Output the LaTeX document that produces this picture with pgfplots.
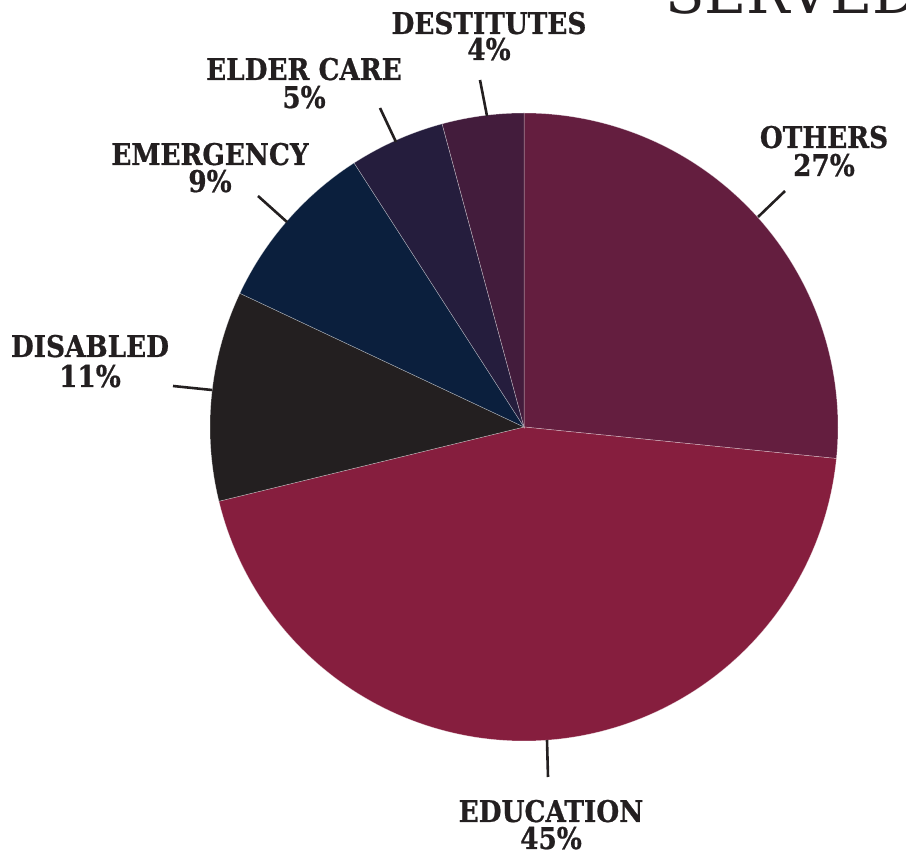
\documentclass[border=0pt]{standalone}
\usepackage{pgfplots}
\pgfplotsset{compat=1.18}
\usepackage{fontspec}
\setmainfont{DejaVu Serif}
\newfontfamily\labfont{DejaVu Serif}[FakeStretch=0.88, BoldFeatures={FakeBold=0.7}]
\definecolor{cOth}{RGB}{100,30,63}
\definecolor{cEdu}{RGB}{134,30,62}
\definecolor{cDis}{RGB}{35,31,32}
\definecolor{cEme}{RGB}{11,31,61}
\definecolor{cEld}{RGB}{37,29,61}
\definecolor{cDes}{RGB}{67,28,60}
\definecolor{ctext}{RGB}{35,31,32}
% shares in percent, clockwise from 12 o'clock:
% Others 26.6, Education 44.6, Disabled 10.8, Emergency 8.9, Elder care 4.9, Destitutes 4.2
\pgfplotsset{
  slice/.style={draw=white, draw opacity=0.45, line width=0.5bp, samples=120, variable=\t},
  lead/.style={ctext, line width=2.6bp, no marks},
}
\tikzset{
  lab/.style={anchor=base, inner sep=0pt, text=ctext, font=\labfont\bfseries\fontsize{30}{30}\selectfont},
}
\begin{document}
\begin{tikzpicture}[x=1bp,y=1bp]
\path[use as bounding box] (0,0) rectangle (906,853);
\begin{axis}[at={(0,0)}, anchor=south west, x=1bp, y=1bp,
  xmin=0, xmax=906, ymin=0, ymax=853, hide axis, clip=false]
% Others
\addplot[slice, fill=cOth, domain={90-3.6*26.6}:90] ({524+314*cos(t)},{426+314*sin(t)}) -- (axis cs:524,426) -- cycle;
% Education
\addplot[slice, fill=cEdu, domain={90-3.6*(26.6+44.6)}:{90-3.6*26.6}] ({524+314*cos(t)},{426+314*sin(t)}) -- (axis cs:524,426) -- cycle;
% Disabled
\addplot[slice, fill=cDis, domain={90-3.6*(71.2+10.8)}:{90-3.6*71.2}] ({524+314*cos(t)},{426+314*sin(t)}) -- (axis cs:524,426) -- cycle;
% Emergency
\addplot[slice, fill=cEme, domain={90-3.6*(82.0+8.9)}:{90-3.6*82.0}] ({524+314*cos(t)},{426+314*sin(t)}) -- (axis cs:524,426) -- cycle;
% Elder care
\addplot[slice, fill=cEld, domain={90-3.6*(90.9+4.9)}:{90-3.6*90.9}] ({524+314*cos(t)},{426+314*sin(t)}) -- (axis cs:524,426) -- cycle;
% Destitutes
\addplot[slice, fill=cDes, domain={90-3.6*(95.8+4.2)}:{90-3.6*95.8}] ({524+314*cos(t)},{426+314*sin(t)}) -- (axis cs:524,426) -- cycle;
% leader lines
\addplot[lead] coordinates {(480,773) (487,737)};
\addplot[lead] coordinates {(380,745) (396,711)};
\addplot[lead] coordinates {(258,657) (287,631)};
\addplot[lead] coordinates {(173,467) (212,463)};
\addplot[lead] coordinates {(785,662) (758,636)};
\addplot[lead] coordinates {(547,113) (548,76)};
% labels
\node[lab] at (axis cs:489,819) {DESTITUTES};
\node[lab] at (axis cs:489,793) {4\%};
\node[lab] at (axis cs:304,773) {ELDER CARE};
\node[lab] at (axis cs:304,745) {5\%};
\node[lab] at (axis cs:210,688) {EMERGENCY};
\node[lab] at (axis cs:210,661) {9\%};
\node[lab] at (axis cs:90,496) {DISABLED};
\node[lab] at (axis cs:90,466) {11\%};
\node[lab] at (axis cs:824,705) {OTHERS};
\node[lab] at (axis cs:824,677) {27\%};
\node[lab] at (axis cs:551,31) {EDUCATION};
\node[lab] at (axis cs:551,4) {45\%};
\end{axis}
\node[anchor=base west, text=ctext, font=\fontsize{58}{58}\selectfont, inner sep=0pt] at (665,839) {SERVED};
\end{tikzpicture}
\end{document}
